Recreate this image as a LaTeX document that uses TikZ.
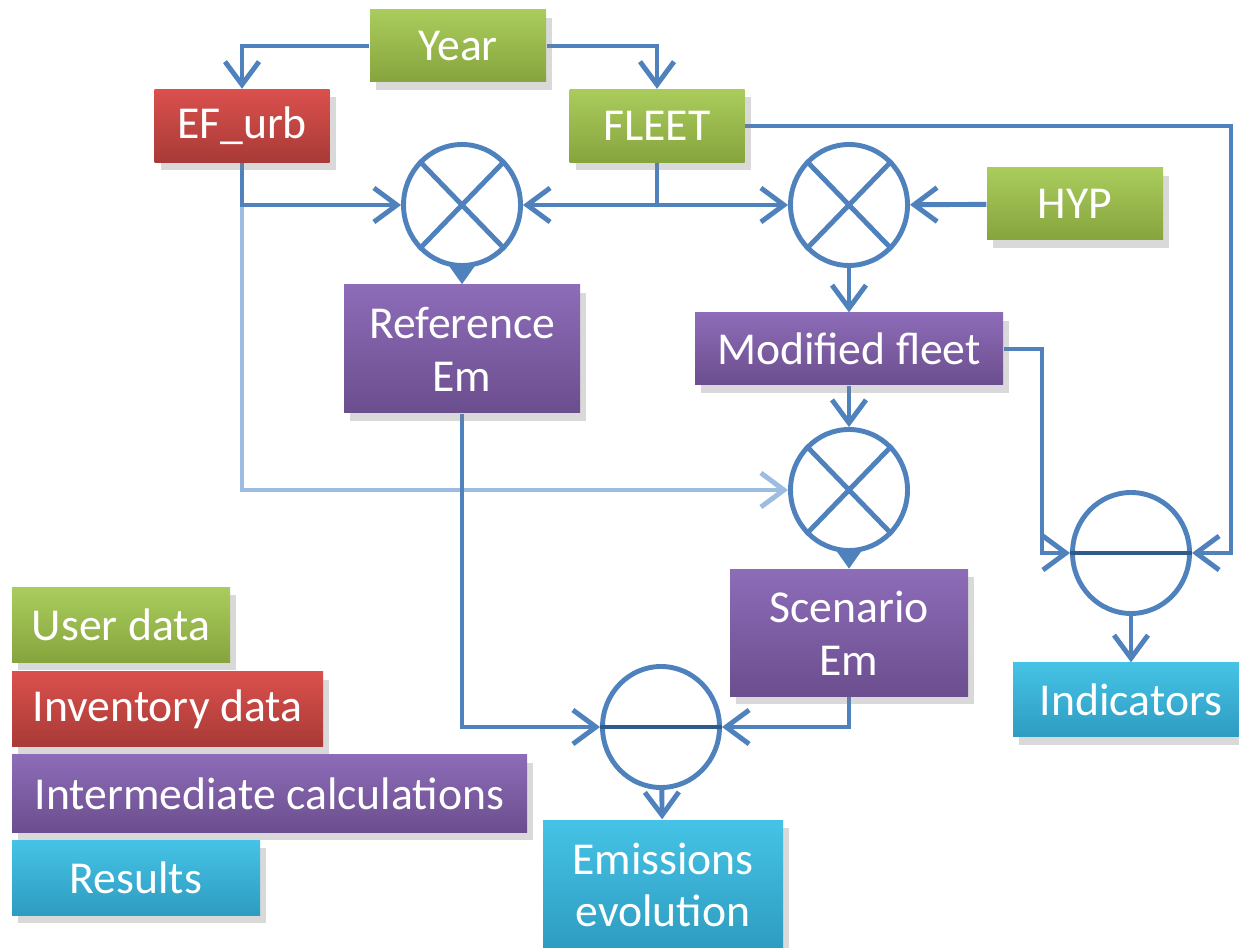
\documentclass[tikz,border=0pt]{standalone}
\usepackage{fontspec}
\setmainfont{Carlito}
\usetikzlibrary{arrows.meta,shadows,shapes.geometric}
\pgfdeclarelayer{edgelayer}
\pgfdeclarelayer{nodelayer}
\pgfsetlayers{edgelayer,nodelayer,main}
\definecolor{linkblue}{HTML}{4F81BD}
\definecolor{faintblue}{HTML}{9DBCE2}
\definecolor{barblue}{HTML}{2E5B8C}
\definecolor{userhi}{HTML}{AACC5C}
\definecolor{userlo}{HTML}{86A43E}
\definecolor{invhi}{HTML}{DA504C}
\definecolor{invlo}{HTML}{A83A37}
\definecolor{calchi}{HTML}{8D6CB8}
\definecolor{calclo}{HTML}{6B4E8E}
\definecolor{reshi}{HTML}{45C3E6}
\definecolor{reslo}{HTML}{2E9CC0}
\tikzstyle{none}=[inner sep=0pt]
\tikzstyle{block}=[rectangle, text=white, align=center, inner sep=0pt, font=\fontsize{13}{15}\selectfont, drop shadow={shadow xshift=0.6mm, shadow yshift=-0.8mm, opacity=0.3}]
\tikzstyle{userbox}=[block, top color=userhi, bottom color=userlo]
\tikzstyle{invbox}=[block, top color=invhi, bottom color=invlo]
\tikzstyle{calcbox}=[block, top color=calchi, bottom color=calclo]
\tikzstyle{resbox}=[block, top color=reshi, bottom color=reslo]
\tikzstyle{mult}=[ellipse, draw=linkblue, line width=1.4pt, fill=white, minimum width=1.17cm, minimum height=1.21cm, inner sep=0pt]
\tikzstyle{plain}=[draw=linkblue, line width=1.4pt]
\tikzstyle{bar}=[draw=barblue, line width=1.4pt]
\tikzstyle{flow}=[plain, -{Straight Barb[length=2.3mm,width=3.4mm]}]
\tikzstyle{faint}=[flow, draw=faintblue]
\tikzstyle{short}=[plain, -{Triangle[length=1.8mm,width=2.4mm]}]

\begin{document}
\begin{tikzpicture}
	\useasboundingbox (0, 0) rectangle (12.39, 9.47);
	\begin{pgfonlayer}{nodelayer}
		\node [style=userbox, minimum width=1.76cm, minimum height=0.72cm] (0) at (4.58, 9.01) {Year};
		\node [style=invbox, minimum width=1.75cm, minimum height=0.73cm] (1) at (2.42, 8.21) {EF\_urb};
		\node [style=userbox, minimum width=1.75cm, minimum height=0.73cm] (2) at (6.57, 8.21) {FLEET};
		\node [style=userbox, minimum width=1.76cm, minimum height=0.72cm] (3) at (10.75, 7.43) {HYP};
		\node [style=mult] (4) at (4.62, 7.42) {};
		\node [style=mult] (5) at (8.49, 7.42) {};
		\node [style=calcbox, minimum width=2.36cm, minimum height=1.28cm] (6) at (4.62, 5.98) {Reference\\Em};
		\node [style=calcbox, minimum width=3.08cm, minimum height=0.72cm] (7) at (8.49, 5.98) {Modified fleet};
		\node [style=mult] (8) at (8.49, 4.57) {};
		\node [style=mult] (9) at (11.31, 3.94) {};
		\node [style=calcbox, minimum width=2.38cm, minimum height=1.27cm] (10) at (8.49, 3.14) {Scenario\\Em};
		\node [style=resbox, minimum width=2.36cm, minimum height=0.74cm] (11) at (11.31, 2.47) {Indicators};
		\node [style=mult] (12) at (6.61, 2.20) {};
		\node [style=resbox, minimum width=2.40cm, minimum height=1.30cm] (13) at (6.63, 0.62) {Emissions\\evolution};
		\node [style=userbox, minimum width=2.18cm, minimum height=0.75cm] (14) at (1.21, 3.22) {User data};
		\node [style=invbox, minimum width=3.11cm, minimum height=0.75cm] (15) at (1.675, 2.375) {Inventory data};
		\node [style=calcbox, minimum width=5.15cm, minimum height=0.77cm] (16) at (2.695, 1.535) {Intermediate calculations};
		\node [style=resbox, minimum width=2.48cm, minimum height=0.75cm] (17) at (1.36, 0.695) {Results};
		\node [style=none] (18) at (12.31, 8.21) {};
		\node [style=none] (19) at (10.42, 5.98) {};
		\draw [style=plain] (4.north west) to (4.south east);
		\draw [style=plain] (4.north east) to (4.south west);
		\draw [style=plain] (5.north west) to (5.south east);
		\draw [style=plain] (5.north east) to (5.south west);
		\draw [style=plain] (8.north west) to (8.south east);
		\draw [style=plain] (8.north east) to (8.south west);
		\draw [style=bar] (9.west) to (9.east);
		\draw [style=bar] (12.west) to (12.east);
	\end{pgfonlayer}
	\begin{pgfonlayer}{edgelayer}
		\draw [style=faint] (1) |- (8);
		\draw [style=flow] (0) -| (1);
		\draw [style=flow] (0) -| (2);
		\draw [style=flow] (1) |- (4);
		\draw [style=flow] (2) |- (4);
		\draw [style=flow] (2) |- (5);
		\draw [style=flow] (3) to (5);
		\draw [style=short] (4) to (6);
		\draw [style=flow] (5) to (7);
		\draw [style=flow] (7) to (8);
		\draw [style=short] (8) to (10);
		\draw [style=flow] (2) -- (18.center) |- (9);
		\draw [style=flow] (7) -- (19.center) |- (9);
		\draw [style=flow] (9) to (11);
		\draw [style=flow] (6) |- (12);
		\draw [style=flow] (10) |- (12);
		\draw [style=flow] (12) to (13);
	\end{pgfonlayer}
\end{tikzpicture}
\end{document}
